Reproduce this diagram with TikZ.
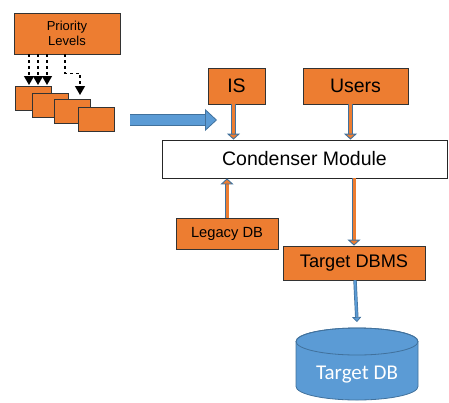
\documentclass[tikz,border=0pt]{standalone}
\usepackage{fontspec}
\setmainfont{Liberation Sans}
\newfontfamily\dbfont{Carlito}
\usetikzlibrary{calc}
\usetikzlibrary{shapes}
\usetikzlibrary{arrows.meta}
\definecolor{boxorange}{HTML}{ED7D31}
\definecolor{dbblue}{HTML}{5B9BD5}
\definecolor{dbline}{HTML}{41719C}
\tikzset{
  obox/.style={draw=black!80, fill=boxorange, line width=0.8pt, inner sep=0pt, align=center},
  stackbox/.style={obox, minimum width=36, minimum height=24},
  flow/.style={draw=dbline, double=boxorange, double distance=3pt, line width=0.9pt,
    -{Triangle[length=6pt, width=13pt, fill=boxorange]}},
  dbflow/.style={draw=dbline, double=dbblue, double distance=2pt, line width=0.7pt,
    -{Triangle[length=5pt, width=9pt, fill=dbblue]}},
  prio/.style={line width=1.3pt, dash pattern=on 3pt off 3pt, -{Triangle[length=9pt, width=10pt]}},
}
\begin{document}
\begin{tikzpicture}[x=1pt, y=-1pt]
        \useasboundingbox (0,0) rectangle (449,402);

        % priority levels
        \node[obox, minimum width=106, minimum height=41, font=\fontsize{13}{15}\selectfont] (prio) at (67,33.5) {Priority\\Levels};

        \node[stackbox] (s1) at (33,98) {};
        \node[stackbox] (s2) at (50,105.5) {};
        \node[stackbox] (s3) at (72.5,111) {};
        \node[stackbox] (s4) at (96,119) {};

        \coordinate (p1) at (29,85);
        \coordinate (p2) at (38,85);
        \coordinate (p3) at (47,85);
        \coordinate (p4) at (80,95);
        \draw[prio] (p1 |- prio.south) -- (p1);
        \draw[prio] (p2 |- prio.south) -- (p2);
        \draw[prio] (p3 |- prio.south) -- (p3);
        \draw[prio] ($(prio.south)+(-2,0)$) -- ++(0,19) -| (p4);

        % block arrow
        \coordinate (ba1) at (130,120);
        \coordinate (ba2) at (217,120);
        \draw[draw=dbline, double=dbblue, double distance=10pt, line width=0.8pt,
              -{Triangle[length=12pt, width=22pt, fill=dbblue]}] (ba1) -- (ba2);

        % sources
        \node[obox, minimum width=57, minimum height=36, font=\fontsize{19.5}{22}\selectfont] (is) at (236.5,86) {IS};
        \node[obox, minimum width=105, minimum height=36, font=\fontsize{19.5}{22}\selectfont] (users) at (355.5,86) {Users};

        \node[draw=black!85, fill=white, line width=0.8pt, minimum width=285, minimum height=38,
              font=\fontsize{19.5}{22}\selectfont] (cond) at (304.5,159) {Condenser Module};

        \node[obox, minimum width=102, minimum height=31, font=\fontsize{14.7}{17}\selectfont] (legacy) at (227,233.5) {Legacy DB};
        \node[obox, minimum width=142, minimum height=34, font=\fontsize{18.2}{21}\selectfont] (tdbms) at (354,263) {Target DBMS};

        % target db
        \draw[draw=dbline, fill=dbblue, line width=0.8pt]
            (296,341.5) -- (296,386.5) arc[start angle=180, end angle=0, x radius=61, y radius=13.5]
            -- (418,341.5) arc[start angle=0, end angle=-180, x radius=61, y radius=13.5] -- cycle;
        \draw[draw=dbline, line width=0.8pt] (357,341.5) ellipse[x radius=61, y radius=13.5];
        \coordinate (tdbtop) at (357,328);
        \node[text=white, font=\dbfont\fontsize{21}{24}\selectfont] (tdb) at (357,375) {Target DB};

        % connectors
        \draw[flow] ($(is.south)+(-3,0)$) -- ($(is.south |- cond.north)+(-3,0)$);
        \draw[flow] ($(users.south)+(-5,0)$) -- ($(users.south |- cond.north)+(-5,0)$);
        \draw[flow] (legacy.north) -- (legacy.north |- cond.south);
        \draw[flow] (cond.south -| tdbms.north) -- (tdbms.north);
        \draw[dbflow] ($(tdbms.south)+(1,0)$) -- ($(tdbtop)+(0,-6)$);

    \end{tikzpicture}
\end{document}
